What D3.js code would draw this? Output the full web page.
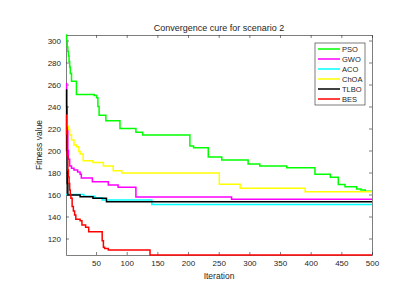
<!DOCTYPE html>
<html>
<head>
<meta charset="utf-8">
<script src="https://cdn.jsdelivr.net/npm/d3@7"></script>
<style>
  body { margin: 0; background: #fff; }
  svg { display: block; font-family: "Liberation Sans", Arial, sans-serif; }
</style>
</head>
<body>
<svg id="chart" width="420" height="290"></svg>
<script>
// breakpoints [iteration, best fitness], value holds until the next breakpoint
const pso = [[1,305],[2,300],[3,294],[4,290],[5,286],[6,281],[7,276],[8,270],[10,263],[18,251],[47,250],[51,248],[53,240],
  [55,232],[66,227],[89,220],[115,216.5],[126,214],[203,204],[209,202.5],[233,194],[255,191.4],[298,187.7],[317,186],
  [361,184.4],[407,178.4],[432,175.6],[445,169],[456,167],[475,165],[482,164],[489,163],[500,163]];
const gwo = [[1,261],[2,240],[3,220],[4,200],[5,192],[7,186],[10,183.8],[14,182.3],[20,180.5],[24,178.4],[26,175],
  [44,171.6],[70,168.6],[86,166.5],[115,157.8],[271,155.6],[500,155.6]];
const aco = [[1,160],[30,158.5],[48,157],[60,155],[141,151],[500,151]];
const choa = [[1,232],[3,222],[5,219],[7,214],[10,209.5],[14,205],[18,203.5],[22,199],[24,196.8],[29,190.7],[45,189],
  [62,186],[78,181.7],[92,179.5],[251,169.3],[285,165.6],[391,162.5],[500,162.5]];
const tlbo = [[1,255],[2,200],[3,170],[4,159.5],[24,158],[45,156.5],[67,153.5],[500,153.5]];
const bes = [[1,232],[2,215],[3,195],[4,182.3],[5,176],[6,170],[7,164],[8,160],[9,156.5],[11,149],[13,145],[15,141.4],
  [17,137.5],[24,136.2],[27,132.3],[33,130.2],[38,126.2],[60,118],[62,112],[64,111],[70,109.5],[138,105],[500,105]];

const seriesNames = ['PSO', 'GWO', 'ACO', 'ChOA', 'TLBO', 'BES'];
const seriesData = [pso, gwo, aco, choa, tlbo, bes];
const seriesColors = ['#00ff00', '#ff00ff', '#00ffff', '#ffff00', '#000000', '#ff0000'];

const xTicks = [50, 100, 150, 200, 250, 300, 350, 400, 450, 500];
const yTicks = [120, 140, 160, 180, 200, 220, 240, 260, 280, 300];

const svg = d3.select('#chart');
const plotL = 66, plotR = 372, plotT = 35, plotB = 255;
const axisColor = '#262626';

const x = d3.scaleLinear().domain([1, 500]).range([plotL, plotR]);
const y = d3.scaleLinear().domain([105, 305]).range([plotB, plotT]);

const styleAxis = (g) => {
    g.selectAll('path, line').attr('stroke', axisColor).attr('stroke-width', 0.6);
    g.selectAll('text').attr('fill', axisColor).attr('font-size', 8).attr('font-family', null);
};

svg.append('g').attr('transform', `translate(0,${plotB})`)
    .call(d3.axisBottom(x).tickValues(xTicks).tickSizeInner(-3).tickSizeOuter(0).tickPadding(5))
    .call(styleAxis);
svg.append('g').attr('transform', `translate(${plotL},0)`)
    .call(d3.axisLeft(y).tickValues(yTicks).tickSizeInner(-3).tickSizeOuter(0).tickPadding(5))
    .call(styleAxis);
svg.append('g').attr('transform', `translate(0,${plotT})`)
    .call(d3.axisTop(x).tickValues(xTicks).tickSizeInner(-3).tickSizeOuter(0).tickFormat(''))
    .call(styleAxis);
svg.append('g').attr('transform', `translate(${plotR},0)`)
    .call(d3.axisRight(y).tickValues(yTicks).tickSizeInner(-3).tickSizeOuter(0).tickFormat(''))
    .call(styleAxis);

const line = d3.line().x((d) => x(d[0])).y((d) => y(d[1])).curve(d3.curveStepAfter);

svg.append('g').selectAll('path')
    .data(seriesData)
    .join('path')
    .attr('d', line)
    .attr('fill', 'none')
    .attr('stroke', (d, i) => seriesColors[i])
    .attr('stroke-width', 1.5);

// labels
svg.append('text').text('Convergence cure for scenario 2')
    .attr('x', (plotL + plotR) / 2).attr('y', 31)
    .attr('text-anchor', 'middle').attr('font-size', 9).attr('fill', axisColor);
svg.append('text').text('Iteration')
    .attr('x', (plotL + plotR) / 2).attr('y', 279)
    .attr('text-anchor', 'middle').attr('font-size', 8.5).attr('fill', axisColor);
svg.append('text').text('Fitness value')
    .attr('transform', `translate(42,${(plotT + plotB) / 2}) rotate(-90)`)
    .attr('text-anchor', 'middle').attr('font-size', 8.5).attr('fill', axisColor);

// legend
const legend = svg.append('g').attr('transform', 'translate(315,43)');
legend.append('rect').attr('width', 50).attr('height', 62)
    .attr('fill', '#fff').attr('stroke', axisColor).attr('stroke-width', 0.6);
const items = legend.selectAll('g.item').data(seriesNames).join('g')
    .attr('class', 'item')
    .attr('transform', (d, i) => `translate(0,${6 + i * 10})`);
items.append('line').attr('x1', 3).attr('x2', 25)
    .attr('stroke', (d, i) => seriesColors[i]).attr('stroke-width', 1.5);
items.append('text').text((d) => d).attr('x', 27).attr('dy', '0.35em')
    .attr('font-size', 7.5).attr('fill', axisColor);
</script>
</body>
</html>
